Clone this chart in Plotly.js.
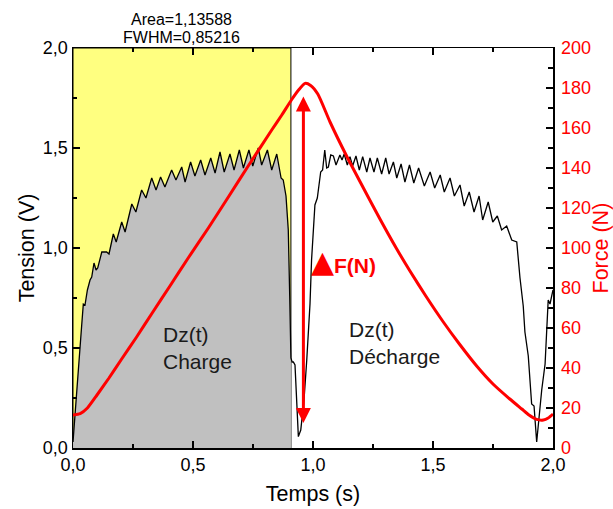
<!DOCTYPE html>
<html><head><meta charset="utf-8">
<script src="https://cdn.plot.ly/plotly-3.0.1.min.js"></script>
<style>html,body{margin:0;padding:0;background:#fff;overflow:hidden}</style>
</head><body><div id="chart" style="width:613px;height:509px"></div>
<script>
// ---- data ----
const timeS = [0.000,0.004,0.012,0.022,0.030,0.036,0.043,0.050,0.060,0.071,0.078,0.0875,0.096,0.103,0.120,0.140,0.150,0.168,0.180,0.203,0.217,0.245,0.262,0.286,0.304,0.328,0.346,0.365,0.383,0.411,0.429,0.453,0.467,0.490,0.508,0.532,0.550,0.574,0.592,0.6125,0.630,0.654,0.671,0.693,0.710,0.733,0.749,0.772,0.786,0.810,0.828,0.849,0.867,0.876,0.8875,0.897,0.903,0.908,0.913,0.918,0.925,0.939,0.949,0.9625,0.974,0.9875,0.994,1.008,1.018,1.032,1.040,1.049,1.057,1.064,1.074,1.085,1.096,1.112,1.121,1.130,1.143,1.154,1.165,1.179,1.193,1.207,1.224,1.2375,1.254,1.268,1.286,1.303,1.317,1.335,1.349,1.367,1.383,1.402,1.420,1.440,1.464,1.488,1.507,1.530,1.547,1.571,1.589,1.6125,1.630,1.651,1.671,1.692,1.707,1.730,1.749,1.768,1.786,1.807,1.828,1.840,1.849,1.8625,1.876,1.883,1.897,1.911,1.921,1.932,1.953,1.967,1.980,1.9875,2.000];
const tensionV = [0.03,0.10,0.22,0.37,0.52,0.61,0.72,0.715,0.79,0.84,0.855,0.925,0.89,0.90,0.98,0.98,0.97,1.07,1.03,1.13,1.08,1.22,1.18,1.29,1.25,1.35,1.29,1.355,1.305,1.39,1.34,1.405,1.33,1.43,1.36,1.44,1.365,1.45,1.375,1.48,1.38,1.47,1.39,1.49,1.40,1.49,1.41,1.50,1.415,1.49,1.39,1.47,1.35,1.34,1.26,1.09,0.76,0.45,0.43,0.43,0.415,0.057,0.09,0.24,0.44,0.72,0.94,1.215,1.25,1.38,1.39,1.49,1.40,1.405,1.465,1.46,1.415,1.465,1.44,1.47,1.415,1.457,1.41,1.46,1.39,1.457,1.38,1.45,1.38,1.45,1.37,1.45,1.37,1.43,1.35,1.42,1.33,1.415,1.325,1.40,1.31,1.38,1.30,1.365,1.28,1.35,1.26,1.315,1.21,1.28,1.18,1.26,1.14,1.23,1.13,1.16,1.09,1.11,1.04,1.035,1.03,0.85,0.71,0.58,0.46,0.22,0.21,0.03,0.29,0.42,0.74,0.72,0.79];

const forceTime = [0.000,0.030,0.060,0.100,0.150,0.200,0.265,0.330,0.404,0.480,0.564,0.650,0.730,0.828,0.870,0.910,0.940,0.967,0.990,1.020,1.071,1.140,1.210,1.279,1.349,1.404,1.470,1.543,1.610,1.682,1.750,1.820,1.870,1.900,1.932,1.960,1.980,2.000];
const forceN = [16.5,17.2,20.0,26.5,35.0,44.0,55.5,67.5,81.0,95.0,110.0,126.0,141.0,159.0,166.5,174.0,179.0,182.3,181.3,177.0,163.0,146.0,130.0,114.5,99.5,88.5,76.0,63.0,52.0,41.0,32.0,24.5,19.5,16.5,14.3,14.0,15.0,17.0];

const integStart = 0.0, integEnd = 0.908;          // integrated (yellow) window
const areaLabel = 'Area=1,13588';
const fwhmLabel = 'FWHM=0,85216';
const arrowTime = 0.96, arrowBottomN = 12.5, arrowTopN = 176.5;

// ---- build ----
const fillT = [], fillV = [];
for (let i = 0; i < timeS.length; i++) {
  if (timeS[i] >= integStart && timeS[i] <= integEnd) { fillT.push(timeS[i]); fillV.push(tensionV[i]); }
}

const FONT = 'Liberation Sans, Arial, sans-serif';

const traces = [
  {x: fillT, y: fillV, type: 'scatter', mode: 'lines', fill: 'tozeroy',
   fillcolor: '#c0c0c0', line: {width: 0, color: '#c0c0c0'}, hoverinfo: 'skip', showlegend: false},
  {x: timeS, y: tensionV, type: 'scatter', mode: 'lines',
   line: {color: '#000', width: 1.3}, showlegend: false},
  {x: forceTime, y: forceN, type: 'scatter', mode: 'lines', yaxis: 'y2',
   line: {color: '#ff0000', width: 3, shape: 'spline', smoothing: 0.6}, showlegend: false}
];

const axBase = {
  showline: true, linecolor: '#000', linewidth: 1.5, showgrid: false, zeroline: false,
  ticks: 'inside', ticklen: 7, tickwidth: 1.3, tickcolor: '#000',
  tickfont: {family: FONT, size: 18, color: '#000'}
};

const layout = {
  width: 613, height: 509,
  margin: {l: 73, r: 60, t: 48, b: 61, pad: 0},
  paper_bgcolor: '#fff', plot_bgcolor: '#fff',
  separators: ',.',
  font: {family: FONT, color: '#000'},
  xaxis: Object.assign({}, axBase, {
    range: [0, 2], dtick: 0.5, tick0: 0, tickformat: '.1f', mirror: 'ticks',
    minor: {dtick: 0.25, ticks: 'inside', ticklen: 4, tickwidth: 1.3, tickcolor: '#000'},
    title: {text: 'Temps (s)', font: {family: FONT, size: 21.5, color: '#000'}, standoff: 12}
  }),
  yaxis: Object.assign({}, axBase, {
    range: [0, 2], dtick: 0.5, tick0: 0, tickformat: '.1f', mirror: false,
    minor: {dtick: 0.25, ticks: 'inside', ticklen: 4, tickwidth: 1.3, tickcolor: '#000'},
    title: {text: 'Tension (V)', font: {family: FONT, size: 21.5, color: '#000'}, standoff: 2}
  }),
  yaxis2: Object.assign({}, axBase, {
    overlaying: 'y', side: 'right', anchor: 'x',
    range: [0, 200], dtick: 20, tick0: 0, ticklabelstandoff: 3,
    minor: {dtick: 10, ticks: 'inside', ticklen: 5, tickwidth: 1.3, tickcolor: '#000'},
    tickfont: {family: FONT, size: 18, color: '#ff0000'}
  }),
  shapes: [
    {type: 'rect', xref: 'x', yref: 'paper', x0: integStart, x1: integEnd, y0: 0, y1: 1,
     fillcolor: '#ffff80', line: {color: '#000', width: 1}, layer: 'below'}
  ],
  annotations: [
    {xref: 'paper', yref: 'paper', x: 1.101, y: 0.5, xanchor: 'center', yanchor: 'middle',
     textangle: -90, text: 'Force (N)', showarrow: false,
     font: {family: FONT, size: 21.5, color: '#ff0000'}},
    {xref: 'x', yref: 'paper', x: 0.453, y: 1.07, yanchor: 'middle', text: areaLabel, showarrow: false,
     font: {family: FONT, size: 16, color: '#000'}},
    {xref: 'x', yref: 'paper', x: 0.453, y: 1.027, yanchor: 'middle', text: fwhmLabel, showarrow: false,
     font: {family: FONT, size: 16, color: '#000'}},
    {xref: 'x', yref: 'y', x: 0.368, y: 0.50, xanchor: 'left', align: 'left',
     text: 'Dz(t)<br>Charge', showarrow: false, font: {family: FONT, size: 21, color: '#1a1a1a'}},
    {xref: 'x', yref: 'y', x: 1.142, y: 0.525, xanchor: 'left', align: 'left',
     text: 'Dz(t)<br>Décharge', showarrow: false, font: {family: FONT, size: 21, color: '#1a1a1a'}},
    {xref: 'x', yref: 'y', x: 1.040, y: 0.935, text: '▲', showarrow: false,
     font: {family: 'DejaVu Sans', size: 30, color: '#ff0000'}},
    {xref: 'x', yref: 'y', x: 1.175, y: 0.915, text: '<b>F(N)</b>', showarrow: false,
     font: {family: FONT, size: 21, color: '#ff0000'}},
    {xref: 'x', yref: 'y2', x: arrowTime, y: arrowBottomN, axref: 'x', ayref: 'y2',
     ax: arrowTime, ay: arrowTopN, text: '', showarrow: true, arrowside: 'end+start',
     arrowhead: 2, startarrowhead: 2, arrowsize: 1, startarrowsize: 1, arrowwidth: 3, arrowcolor: '#ff0000'}
  ]
};

Plotly.newPlot('chart', traces, layout, {displayModeBar: false, staticPlot: true});
</script>
</body></html>
